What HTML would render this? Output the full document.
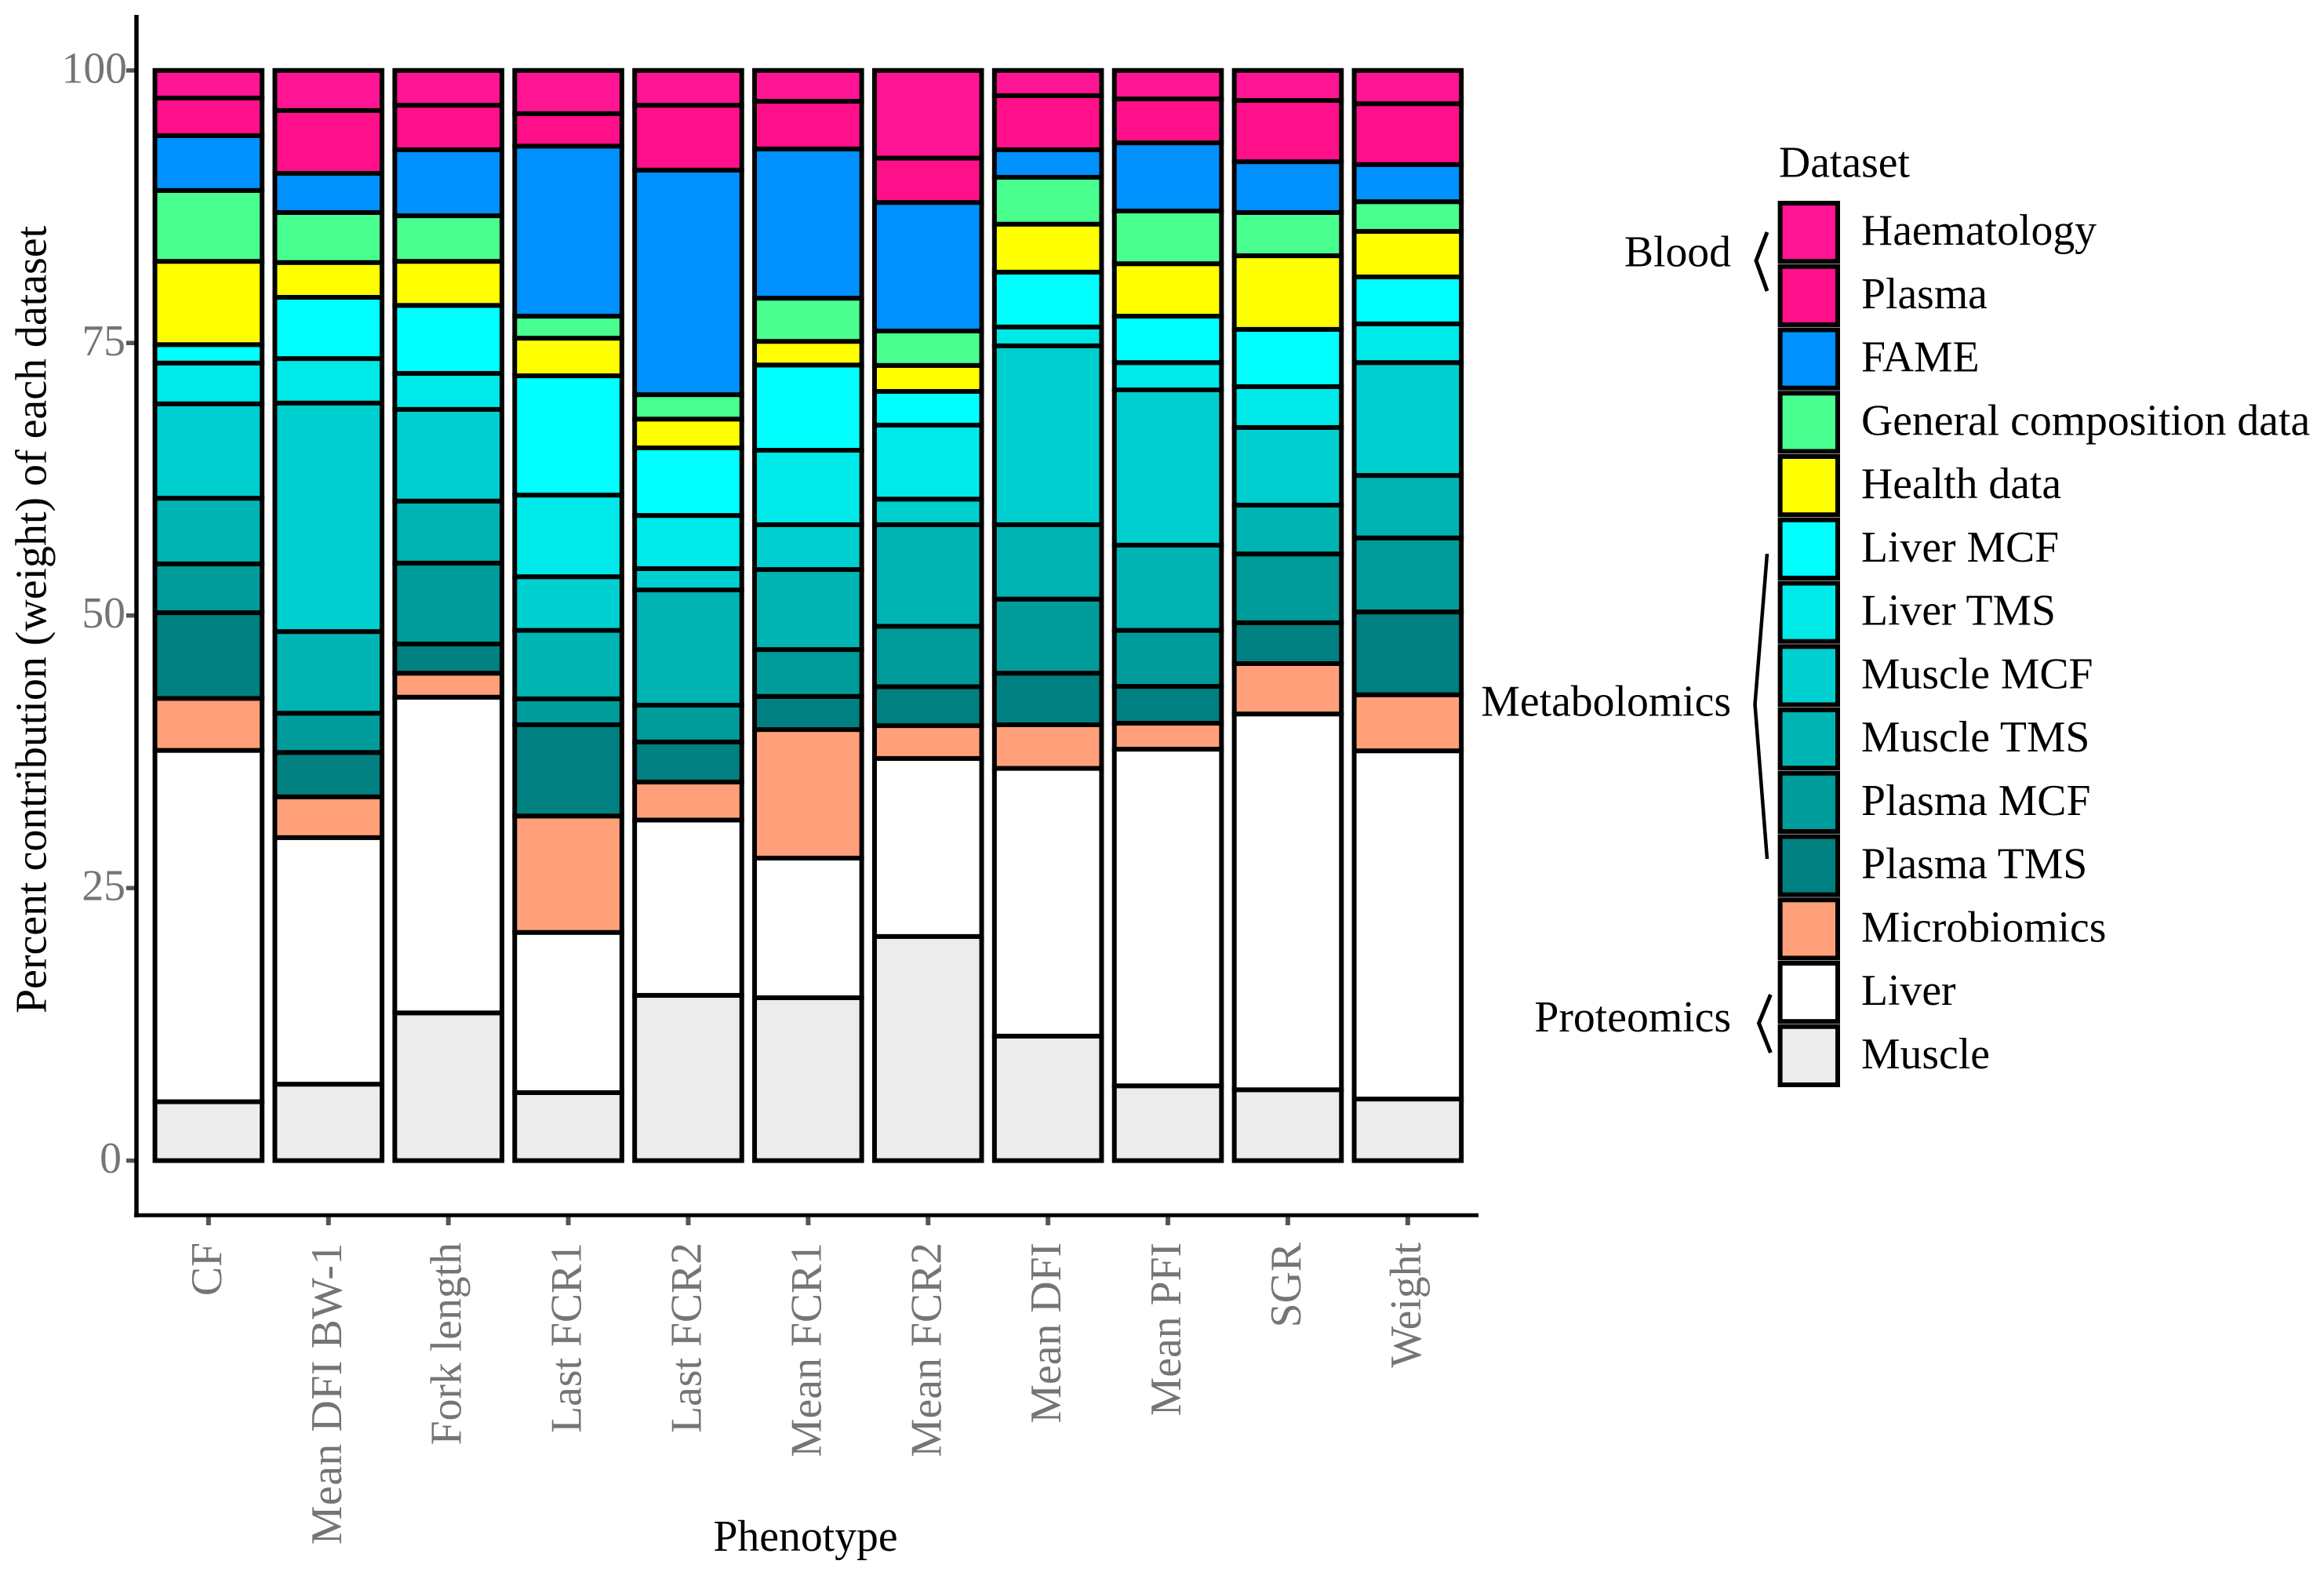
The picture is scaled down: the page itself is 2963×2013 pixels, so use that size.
<!DOCTYPE html>
<html lang="en">
<head>
<meta charset="utf-8">
<title>Percent contribution of each dataset by phenotype</title>
<style>
html,body{margin:0;padding:0;background:#fff;width:2963px;height:2013px;overflow:hidden}
svg{display:block}
text{font-family:"Liberation Serif","Times New Roman",serif;font-size:55.7px;fill:#000}
.tick-label{fill:#757575}
</style>
</head>
<body>
<svg id="chart" xmlns="http://www.w3.org/2000/svg" width="2963" height="2013" viewBox="0 0 2963 2013">
  <rect x="0" y="0" width="2963" height="2013" fill="#ffffff"/>
  <g id="bars"></g>
  <g id="ticks"></g>
  <line x1="174" y1="19" x2="174" y2="1552" stroke="#000" stroke-width="5.5"/>
  <line x1="171" y1="1549.3" x2="1885" y2="1549.3" stroke="#000" stroke-width="5"/>
  <text transform="translate(58.7,1292) rotate(-90)" style="font-size:55.9px">Percent contribution (weight) of each dataset</text>
  <text x="1027" y="1977" text-anchor="middle">Phenotype</text>
  <text x="2268" y="225.6">Dataset</text>
  <g id="legend"></g>
  <text x="2207" y="339.5" text-anchor="end">Blood</text>
  <polyline points="2253,296 2239,332.4 2253,371" fill="none" stroke="#000" stroke-width="5"/>
  <text x="2207" y="912.7" text-anchor="end">Metabolomics</text>
  <polyline points="2253,706 2237.5,898 2253,1095" fill="none" stroke="#000" stroke-width="4.5"/>
  <text x="2207" y="1314.8" text-anchor="end">Proteomics</text>
  <polyline points="2257.4,1268 2242.5,1304.5 2257.4,1342" fill="none" stroke="#000" stroke-width="5"/>
</svg>
<script>
// Chart data: one value per phenotype, in the order of `categories`
const categories = ['CF','Mean DFI BW-1','Fork length','Last FCR1','Last FCR2','Mean FCR1','Mean FCR2','Mean DFI','Mean PFI','SGR','Weight'];
const yTickValues = [0,25,50,75,100];

const haematology = [2.53,3.67,3.19,3.96,3.19,2.83,8.04,2.31,2.61,2.75,3.05];
const plasma      = [3.45,5.77,4.08,2.98,5.95,4.37,4.07,4.96,4.03,5.62,5.58];
const fame        = [5.03,3.59,6.06,15.60,20.60,13.69,11.79,2.53,6.25,4.66,3.41];
const generalComp = [6.50,4.59,4.18,2.02,2.24,3.96,3.16,4.30,4.84,3.97,2.72];
const healthData  = [7.64,3.19,4.04,3.45,2.64,2.17,2.38,4.40,4.81,6.75,4.18];
const liverMCF    = [1.69,5.62,6.24,10.94,6.20,7.82,3.09,5.03,4.26,5.25,4.30];
const liverTMS    = [3.74,4.08,3.30,7.49,4.88,6.83,6.79,1.73,2.50,3.75,3.56];
const muscleMCF   = [8.66,20.96,8.41,4.92,1.95,4.11,2.35,16.41,14.24,7.12,10.35];
const muscleTMS   = [6.02,7.49,5.69,6.28,10.57,7.34,9.32,6.82,7.82,4.48,5.73];
const plasmaMCF   = [4.48,3.60,7.42,2.38,3.38,4.30,5.54,6.80,5.14,6.31,6.79];
const plasmaTMS   = [7.86,4.07,2.68,8.37,3.67,3.04,3.57,4.73,3.38,3.75,7.60];
const microbiomics= [4.77,3.74,2.20,10.68,3.49,11.79,3.01,4.00,2.38,4.62,5.14];
const liverProt   = [32.23,22.62,28.96,14.69,16.08,12.81,16.33,24.56,30.88,34.47,31.94];
const muscleProt  = [5.40,7.01,13.55,6.24,15.16,14.94,20.56,11.42,6.86,6.50,5.65];

const seriesNames  = ['Haematology','Plasma','FAME','General composition data','Health data','Liver MCF','Liver TMS','Muscle MCF','Muscle TMS','Plasma MCF','Plasma TMS','Microbiomics','Liver','Muscle'];
const seriesValues = [haematology,plasma,fame,generalComp,healthData,liverMCF,liverTMS,muscleMCF,muscleTMS,plasmaMCF,plasmaTMS,microbiomics,liverProt,muscleProt];
const seriesColors = ['#FF1493','#FF0F8A','#0091FF','#48FF90','#FFFF00','#00FFFF','#00E9E9','#00CFCF','#00B4B4','#009B9B','#008080','#FFA07A','#FFFFFF','#ECECEC'];

const SVG_NS = 'http://www.w3.org/2000/svg';
function slug(s){ return s.toLowerCase().replace(/[^a-z0-9]+/g,'-'); }
function make(tag, attrs, parent){
  const el = document.createElementNS(SVG_NS, tag);
  for (const k in attrs) el.setAttribute(k, attrs[k]);
  parent.appendChild(el);
  return el;
}
// Axis functions
function xScale(i){ return 189.4 + (i + 0.5) * 152.9; }
function yScale(v){ return 1479.6 - v * 13.898; }
const BAR_WIDTH = 136.6;

const barsLayer = document.getElementById('bars');
const ticksLayer = document.getElementById('ticks');
const legendLayer = document.getElementById('legend');

// Stacked bars: built upward from the bottom of the stack
categories.forEach(function(cat, c){
  let running = 0;
  for (let s = seriesValues.length - 1; s >= 0; s--) {
    const v = seriesValues[s][c];
    const rect = make('rect', {
      x: xScale(c) - BAR_WIDTH / 2,
      y: yScale(running + v),
      width: BAR_WIDTH,
      height: yScale(running) - yScale(running + v),
      fill: seriesColors[s],
      stroke: '#000',
      'stroke-width': 6
    }, barsLayer);
    
    
    running += v;
  }
});

// Y ticks: label right edge shifts slightly with the digit count, as in the reference
yTickValues.forEach(function(v){
  const tick = make('line', {x1:161, x2:172, y1:yScale(v), y2:yScale(v), stroke:'#555', 'stroke-width':5.5}, ticksLayer);
  
  
  const digits = String(v).length;
  const labelX = digits === 3 ? 162 : (digits === 1 ? 155 : 160);
  const label = make('text', {x:labelX, y:yScale(v) + 15.5, 'text-anchor':'end', 'class':'tick-label'}, ticksLayer);
  
  
  label.textContent = String(v);
});

// X ticks
categories.forEach(function(cat, c){
  const tick = make('line', {x1:xScale(c), x2:xScale(c), y1:1549, y2:1562, stroke:'#555', 'stroke-width':6}, ticksLayer);
  
  
  const label = make('text', {
    transform:'translate(' + (xScale(c) + 16) + ',1584) rotate(-90)',
    'text-anchor':'end',
    'class':'tick-label'
  }, ticksLayer);
  
  
  if (cat.indexOf('-') >= 0) label.style.letterSpacing = '0.6px';
  label.textContent = cat;
});

// Legend
seriesNames.forEach(function(name, s){
  const top = 256 + s * 80.75;
  const key = make('rect', {x:2269.6, y:top + 3, width:73.4, height:74.2, fill:seriesColors[s], stroke:'#000', 'stroke-width':6}, legendLayer);
  
  
  const label = make('text', {x:2373, y:top + 56.2}, legendLayer);
  
  
  label.textContent = name;
});
</script>
</body>
</html>
